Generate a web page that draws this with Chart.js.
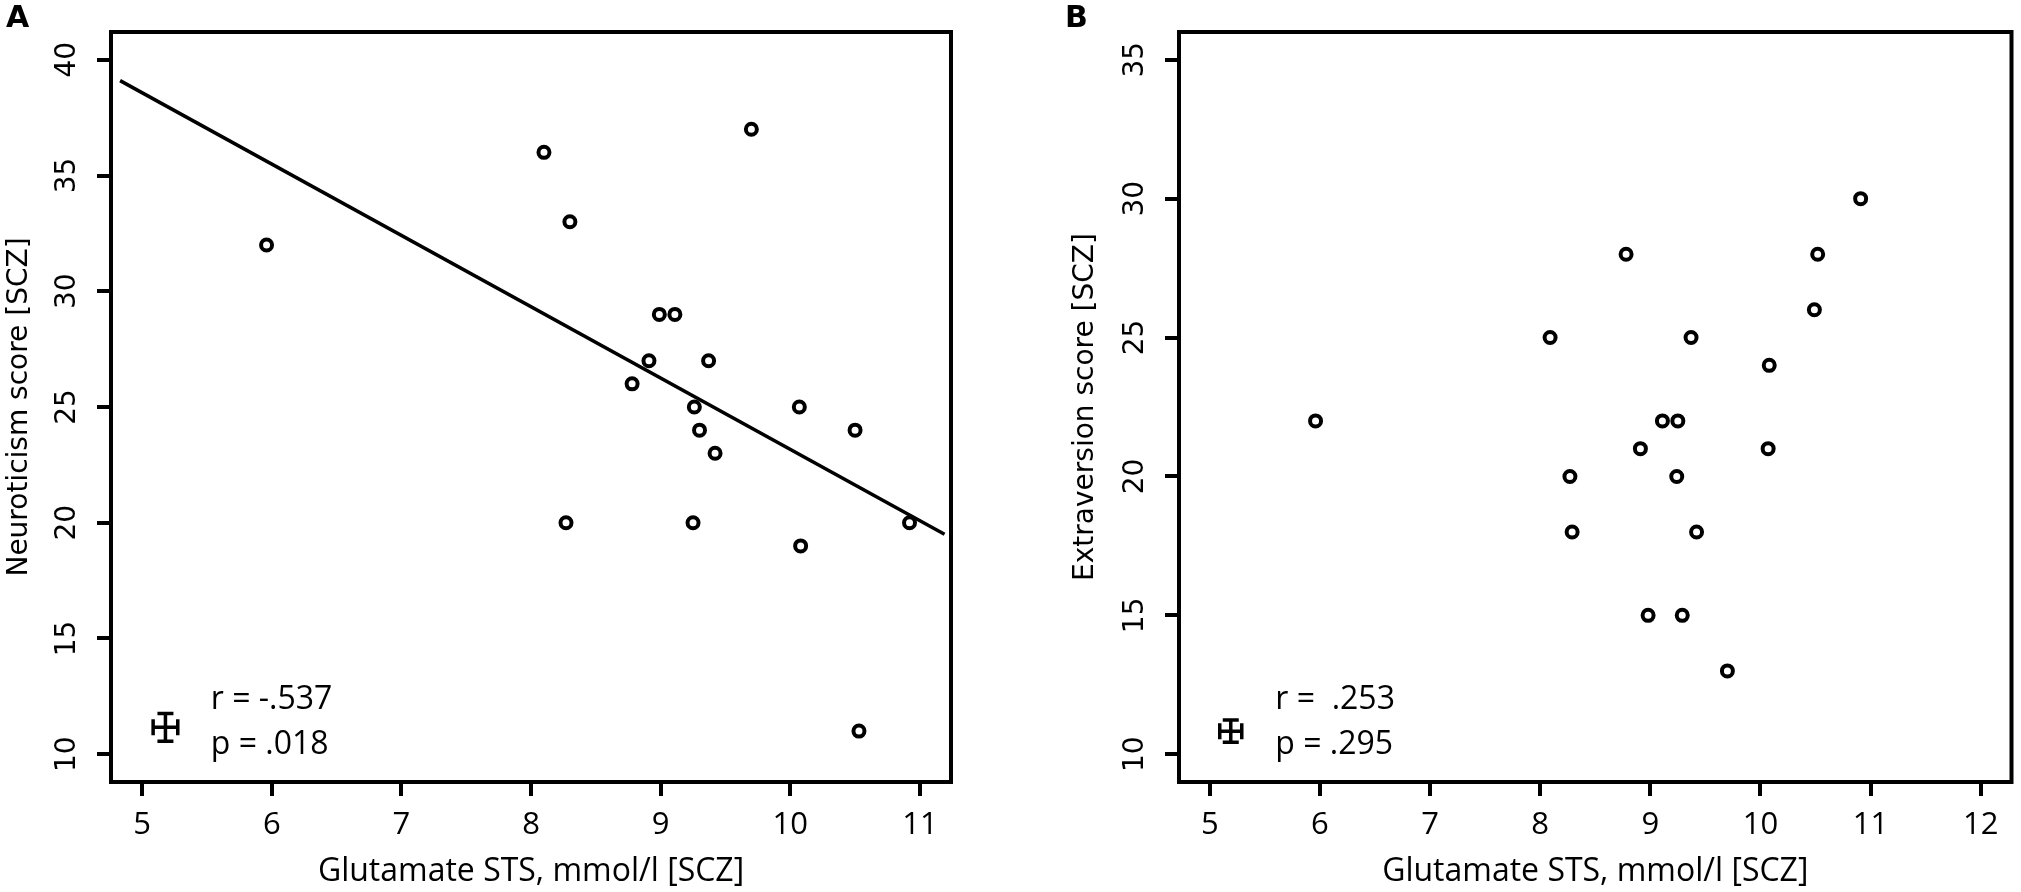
<!DOCTYPE html>
<html>
<head>
<meta charset="utf-8">
<script src="https://cdn.jsdelivr.net/npm/chart.js@4.4.1/dist/chart.umd.min.js"></script>
<style>
  html, body { margin: 0; padding: 0; background: #fff; }
  #wrap { position: relative; width: 2021px; height: 892px; }
  .panel { position: absolute; top: 0; height: 892px; }
  #panel-a { left: 0; width: 1000px; }
  #panel-b { left: 1040px; width: 981px; }
</style>
</head>
<body>
<div id="wrap">
  <div class="panel" id="panel-a"><canvas id="chartA"></canvas></div>
  <div class="panel" id="panel-b"><canvas id="chartB"></canvas></div>
</div>
<script>
'use strict';

// Panel A - glutamate vs neuroticism
const glutamateA = [5.96, 8.10, 9.70, 8.30, 8.99, 9.11, 8.91, 9.37, 8.78, 9.26, 10.07, 9.30, 10.50, 9.42, 8.27, 9.25, 10.08, 10.92, 10.53];
const neuroticism = [32, 36, 37, 33, 29, 29, 27, 27, 26, 25, 25, 24, 24, 23, 20, 20, 19, 20, 11];
const fitX = [4.83, 11.19];
const fitY = [39.1, 19.5];
const xTicksA = [5, 6, 7, 8, 9, 10, 11];
const yTicksA = [10, 15, 20, 25, 30, 35, 40];
const xRangeA = [4.76, 11.24];
const yRangeA = [8.8, 41.2];
const statsA = ['r = -.537', 'p = .018'];
const statXA = 5.53;
const statYA = [12.33, 10.39];
const errCenterA = [5.18, 11.16];
const errHalfA = [0.095, 0.6];

// Panel B - glutamate vs extraversion
const glutamateB = [5.96, 8.09, 8.78, 9.11, 9.25, 10.91, 10.52, 10.49, 9.37, 10.08, 8.91, 8.27, 9.24, 8.29, 8.98, 10.07, 9.42, 9.29, 9.70];
const extraversion = [22, 25, 28, 22, 22, 30, 28, 26, 25, 24, 21, 20, 20, 18, 15, 21, 18, 15, 13];
const xTicksB = [5, 6, 7, 8, 9, 10, 11, 12];
const yTicksB = [10, 15, 20, 25, 30, 35];
const xRangeB = [4.72, 12.28];
const yRangeB = [9, 36];
const statsB = ['r =  .253', 'p = .295'];
const statXB = 5.595;
const statYB = [11.94, 10.32];
const errCenterB = [5.19, 10.83];
const errHalfB = [0.1, 0.4];

const xTitle = 'Glutamate STS, mmol/l [SCZ]';

const toPoints = (xs, ys) => xs.map((v, i) => ({x: v, y: ys[i]}));

// Box, error cross, stats text and panel letter
const panelDecor = {
  id: 'panelDecor',
  afterDraw(chart, args, opts) {
    const {ctx, chartArea: a} = chart;
    const sx = chart.scales.x, sy = chart.scales.y;
    ctx.save();
    ctx.strokeStyle = '#000';
    ctx.lineWidth = 4;
    ctx.strokeRect(a.left, a.top, a.right - a.left, a.bottom - a.top);

    const cx = sx.getPixelForValue(opts.err[0]),
      cy = sy.getPixelForValue(opts.err[1]),
      xl = sx.getPixelForValue(opts.err[0] - opts.half[0]),
      xr = sx.getPixelForValue(opts.err[0] + opts.half[0]),
      yt = sy.getPixelForValue(opts.err[1] + opts.half[1]),
      yb = sy.getPixelForValue(opts.err[1] - opts.half[1]),
      cap = 8;
    ctx.lineWidth = 3.5;
    ctx.beginPath();
    ctx.moveTo(xl, cy); ctx.lineTo(xr, cy);
    ctx.moveTo(xl, cy - cap); ctx.lineTo(xl, cy + cap);
    ctx.moveTo(xr, cy - cap); ctx.lineTo(xr, cy + cap);
    ctx.moveTo(cx, yt); ctx.lineTo(cx, yb);
    ctx.moveTo(cx - cap, yt); ctx.lineTo(cx + cap, yt);
    ctx.moveTo(cx - cap, yb); ctx.lineTo(cx + cap, yb);
    ctx.stroke();

    ctx.fillStyle = '#000';
    ctx.font = '32px "Open Sans"';
    ctx.textAlign = 'left';
    ctx.textBaseline = 'middle';
    opts.stats.forEach((txt, i) => {
      ctx.fillText(txt, sx.getPixelForValue(opts.statX), sy.getPixelForValue(opts.statY[i]));
    });

    ctx.font = 'bold 30px "DejaVu Sans"';
    ctx.textBaseline = 'alphabetic';
    ctx.fillText(opts.letter, opts.letterX, 27);
    ctx.restore();
  }
};

const tickGrid = {
  display: true,
  drawOnChartArea: false,
  drawTicks: true,
  tickLength: 14,
  tickWidth: 4,
  tickColor: '#000',
  lineWidth: 4,
  color: '#000'
};

const makeChart = (canvasId, cfg) => new Chart(document.getElementById(canvasId), {
  type: 'scatter',
  data: {
    datasets: cfg.datasets
  },
  options: {
    responsive: true,
    maintainAspectRatio: false,
    animation: false,
    events: [],
    layout: {
      padding: {left: 0, top: 32, right: cfg.padRight, bottom: 0}
    },
    scales: {
      x: {
        type: 'linear',
        min: cfg.xRange[0],
        max: cfg.xRange[1],
        afterBuildTicks: s => { s.ticks = cfg.xTicks.map(v => ({value: v})); },
        afterFit: s => { s.height = 110; },
        grid: tickGrid,
        border: {display: false},
        ticks: {
          autoSkip: false,
          maxRotation: 0,
          padding: 11,
          color: '#000',
          font: {family: 'Open Sans', size: 31}
        },
        title: {
          display: true,
          text: xTitle,
          color: '#000',
          font: {family: 'Open Sans', size: 32},
          padding: {top: 0, bottom: 1}
        }
      },
      y: {
        type: 'linear',
        min: cfg.yRange[0],
        max: cfg.yRange[1],
        afterBuildTicks: s => { s.ticks = cfg.yTicks.map(v => ({value: v})); },
        afterFit: s => { s.width = cfg.yWidth; },
        grid: tickGrid,
        border: {display: false},
        ticks: {
          autoSkip: false,
          minRotation: 90,
          maxRotation: 90,
          crossAlign: 'center',
          padding: 11,
          color: '#000',
          font: {family: 'DejaVu Sans', size: 28}
        },
        title: {
          display: true,
          text: cfg.yTitle,
          color: '#000',
          font: {family: 'DejaVu Sans', size: 28},
          padding: {top: cfg.yTitlePad, bottom: 0}
        }
      }
    },
    plugins: {
      legend: {display: false},
      tooltip: {enabled: false},
      panelDecor: cfg.decor
    }
  },
  plugins: [panelDecor]
});

const pointStyle = {
  showLine: false,
  pointRadius: 5.5,
  pointBorderWidth: 4,
  pointBackgroundColor: 'rgba(0,0,0,0)',
  pointBorderColor: '#000'
};

makeChart('chartA', {
  padRight: 49,
  yWidth: 111,
  yTitlePad: 3,
  xRange: xRangeA, yRange: yRangeA,
  xTicks: xTicksA, yTicks: yTicksA,
  yTitle: 'Neuroticism score [SCZ]',
  datasets: [
    Object.assign({data: toPoints(glutamateA, neuroticism)}, pointStyle),
    {
      data: toPoints(fitX, fitY),
      showLine: true,
      borderColor: '#000',
      borderWidth: 3.5,
      pointRadius: 0,
      fill: false
    }
  ],
  decor: {
    err: errCenterA, half: errHalfA,
    stats: statsA, statX: statXA, statY: statYA,
    letter: 'A', letterX: 6
  }
});

makeChart('chartB', {
  padRight: 3,
  yWidth: 139,
  yTitlePad: 29,
  xRange: xRangeB, yRange: yRangeB,
  xTicks: xTicksB, yTicks: yTicksB,
  yTitle: 'Extraversion score [SCZ]',
  datasets: [
    Object.assign({data: toPoints(glutamateB, extraversion)}, pointStyle)
  ],
  decor: {
    err: errCenterB, half: errHalfB,
    stats: statsB, statX: statXB, statY: statYB,
    letter: 'B', letterX: 25
  }
});
</script>
</body>
</html>
